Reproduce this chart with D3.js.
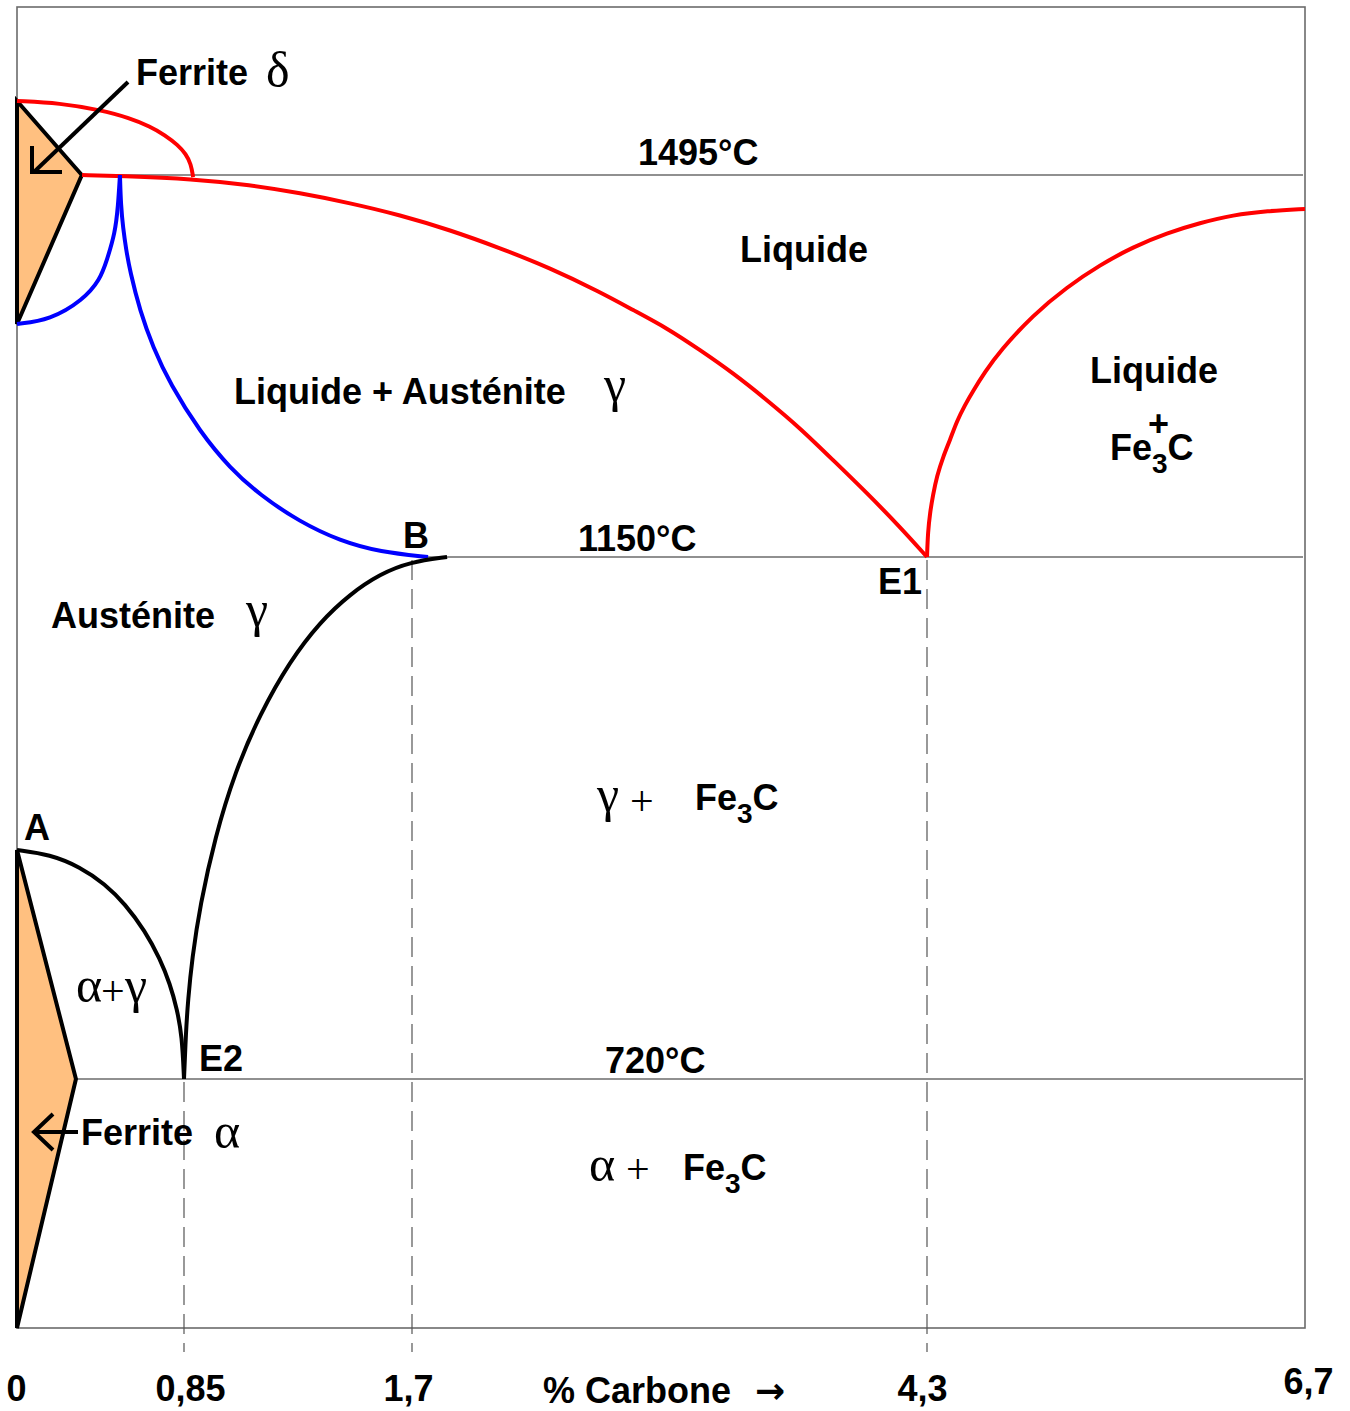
<!DOCTYPE html>
<html>
<head>
<meta charset="utf-8">
<script src="https://cdn.jsdelivr.net/npm/d3@7"></script>
<style>
  body { margin: 0; background: #fff; }
  text { font-family: "Liberation Sans", Arial, sans-serif; font-weight: bold; font-size: 36px; fill: #000; }
  text.greek { font-family: "Liberation Serif", "Times New Roman", serif; font-weight: normal; font-size: 50px; }
  text.plus { font-family: "Liberation Serif", "Times New Roman", serif; font-weight: normal; font-size: 42px; }
</style>
</head>
<body>
<svg id="chart" width="1350" height="1411"></svg>
<script>
// ---- data (% carbone, °C) ----
const carbonTicks = [0, 0.85, 1.7, 4.3, 6.7];
const carbonTickLabels = ["0", "0,85", "1,7", "4,3", "6,7"];
const tempBreaks = [500, 720, 910, 1150, 1394, 1495, 1538, 1600];

const isothermTemps = [1495, 1150, 720];
const isothermStart = [0.33, 1.78, 0.30];
const isothermLabels = ["1495°C", "1150°C", "720°C"];

const dashedCarbon = [0.85, 1.7, 4.3];
const dashedFromTemp = [720, 1150, 1150];

// solid phases (filled)
const ferriteDelta = [[0, 1538], [0.33, 1495], [0, 1394]];
const ferriteAlpha = [[0, 910], [0.30, 720], [0, 500]];

// liquidus (red)
const liquidusDelta = [[0, 1538], [0.219, 1536.8], [0.422, 1532.8], [0.575, 1528.1], [0.677, 1523.2],
                       [0.753, 1518.2], [0.819, 1512.4], [0.857, 1507.2], [0.876, 1501.4], [0.884, 1493.6]];
const liquidusGamma = [[0.331, 1495], [0.524, 1494.3], [0.884, 1492.3], [1.096, 1488.2], [1.282, 1482.8],
                       [1.469, 1476.0], [1.655, 1467.9], [1.892, 1457.7], [2.144, 1445.5], [2.397, 1432.0],
                       [2.649, 1415.7], [2.816, 1403.5], [2.987, 1389.8], [3.154, 1366.8], [3.321, 1342.7],
                       [3.492, 1314.4], [3.659, 1285.1], [3.825, 1251.6], [3.997, 1217.0], [4.164, 1181.4],
                       [4.3, 1150]];
const liquidusCementite = [[4.3, 1150], [4.306, 1176.2], [4.319, 1196.1], [4.338, 1214.9], [4.363, 1234.8],
                           [4.402, 1254.7], [4.446, 1272.5], [4.490, 1292.4], [4.541, 1309.2], [4.592, 1323.8],
                           [4.668, 1343.7], [4.763, 1365.7], [4.973, 1400.1], [5.189, 1419.1], [5.398, 1434.0],
                           [5.608, 1446.2], [5.824, 1455.7], [6.033, 1462.5], [6.243, 1467.9], [6.459, 1470.6],
                           [6.7, 1472.0]];

// delta/gamma and solidus (blue)
const deltaGamma = [[0, 1394], [0.168, 1396.7], [0.336, 1410.3], [0.422, 1423.8], [0.458, 1437.4],
                    [0.499, 1455.7], [0.514, 1473.3], [0.524, 1495]];
const solidusGamma = [[0.524, 1495], [0.529, 1474.0], [0.540, 1459.1], [0.555, 1444.8], [0.575, 1429.9],
                      [0.626, 1402.8], [0.692, 1369.9], [0.779, 1331.2], [0.910, 1280.9], [1.021, 1243.2],
                      [1.133, 1214.9], [1.282, 1186.7], [1.432, 1166.8], [1.581, 1155.2], [1.781, 1150]];

// black lines
const gammaAlpha = [[0, 910], [0.168, 906.3], [0.321, 895.9], [0.448, 881.8], [0.550, 865.2], [0.652, 842.8],
                    [0.728, 819.6], [0.779, 798.8], [0.814, 778.1], [0.840, 755.7], [0.85, 720]];
const acm = [[0.85, 720], [0.857, 758.2], [0.865, 785.5], [0.880, 819.6], [0.910, 864.4], [0.966, 920.7],
             [1.040, 973.9], [1.133, 1021.4], [1.245, 1064.8], [1.357, 1096.8], [1.469, 1119.7],
             [1.581, 1136.1], [1.693, 1145.9], [1.877, 1150]];

// ---- scales ----
const svg = d3.select("#chart");

const x = d3.scaleLinear()
  .domain(carbonTicks)
  .range([17, 184, 412, 927, 1305]);
const y = d3.scaleLinear()
  .domain(tempBreaks)
  .range([1328, 1079, 850, 557, 324, 175, 101, 7]);

const line = d3.line()
  .x(d => x(d[0]))
  .y(d => y(d[1]))
  .curve(d3.curveBasis);

const poly = d3.line()
  .x(d => x(d[0]))
  .y(d => y(d[1]))
  .curve(d3.curveLinearClosed);

const bottom = y(500);

// frame
svg.append("rect")
  .attr("x", x(0)).attr("y", y(1600))
  .attr("width", x(6.7) - x(0)).attr("height", bottom - y(1600))
  .attr("fill", "none").attr("stroke", "#6b6b6b").attr("stroke-width", 1.6);

// isotherms
svg.selectAll(".iso")
  .data(isothermTemps)
  .enter().append("line")
    .attr("class", "iso")
    .attr("x1", (d, i) => x(isothermStart[i]))
    .attr("x2", x(6.7) - 2)
    .attr("y1", d => y(d))
    .attr("y2", d => y(d))
    .attr("stroke", "#6b6b6b")
    .attr("stroke-width", 1.4);

// dashed verticals
svg.selectAll(".dash")
  .data(dashedCarbon)
  .enter().append("line")
    .attr("class", "dash")
    .attr("x1", d => x(d)).attr("x2", d => x(d))
    .attr("y1", (d, i) => y(dashedFromTemp[i]) + 3)
    .attr("y2", bottom + 24)
    .attr("stroke", "#555")
    .attr("stroke-width", 1.2)
    .attr("stroke-dasharray", "20,9");

// ferrite polygons
svg.selectAll(".solid")
  .data([ferriteDelta, ferriteAlpha])
  .enter().append("path")
    .attr("class", "solid")
    .attr("d", poly)
    .attr("fill", "#ffc080")
    .attr("stroke", "#000")
    .attr("stroke-width", 4)
    .attr("stroke-linejoin", "miter");

// curves
const curves = [
  { pts: liquidusDelta, color: "#ff0000" },
  { pts: liquidusGamma, color: "#ff0000" },
  { pts: liquidusCementite, color: "#ff0000" },
  { pts: deltaGamma, color: "#0000ff" },
  { pts: solidusGamma, color: "#0000ff" },
  { pts: gammaAlpha, color: "#000" },
  { pts: acm, color: "#000" }
];
svg.selectAll(".curve")
  .data(curves)
  .enter().append("path")
    .attr("class", "curve")
    .attr("d", d => line(d.pts))
    .attr("fill", "none")
    .attr("stroke", d => d.color)
    .attr("stroke-width", 4)
    .attr("stroke-linecap", "butt");

// arrows
const arrows = svg.append("g")
  .attr("fill", "none").attr("stroke", "#000").attr("stroke-width", 4);
arrows.append("path").attr("d", "M128,82 L34,172");
arrows.append("path").attr("d", "M32,146 L32,172 L62,172");
arrows.append("path").attr("d", "M78,1132 L34,1132");
arrows.append("path").attr("d", "M53,1114 L34,1132 L53,1150");

// isotherm labels
const isoLabelX = [638, 578, 605];
const isoLabelDy = [-10, -6, -6];
svg.selectAll(".isolabel")
  .data(isothermTemps)
  .enter().append("text")
    .attr("class", "isolabel")
    .attr("x", (d, i) => isoLabelX[i])
    .attr("y", (d, i) => y(d) + isoLabelDy[i])
    .text((d, i) => isothermLabels[i]);

// region labels
function label(tx, ty, str) {
  return svg.append("text").attr("x", tx).attr("y", ty).text(str);
}
function greek(tx, ty, str) {
  return svg.append("text").attr("class", "greek").attr("x", tx).attr("y", ty).text(str);
}
function plus(tx, ty) {
  return svg.append("text").attr("class", "plus").attr("x", tx).attr("y", ty).text("+");
}
function fe3c(t) {
  t.append("tspan").text("Fe");
  t.append("tspan").attr("dy", 13).attr("font-size", 28).text("3");
  t.append("tspan").attr("dy", -13).text("C");
}

label(136, 85, "Ferrite");
greek(266, 87, "δ");

label(740, 262, "Liquide");

label(234, 404, "Liquide + Austénite");
greek(604, 401, "γ");

label(1090, 383, "Liquide");
label(1148, 436, "+");
fe3c(label(1110, 460, ""));

label(403, 548, "B");
label(878, 594, "E1");

label(51, 628, "Austénite");
greek(246, 626, "γ");

greek(597, 811, "γ");
plus(630, 815);
fe3c(label(695, 810, ""));

label(24, 840, "A");
greek(76, 1002, "α");
plus(101, 1005);
greek(125, 1002, "γ");
label(199, 1071, "E2");

label(81, 1145, "Ferrite");
greek(214, 1148, "α");

greek(589, 1181, "α");
plus(626, 1183);
fe3c(label(683, 1180, ""));

// x axis
const axis = svg.append("g")
  .attr("transform", `translate(0, ${bottom})`)
  .call(d3.axisBottom(x)
    .tickValues(carbonTicks)
    .tickFormat((d, i) => carbonTickLabels[i])
    .tickSize(0)
    .tickPadding(47));
axis.select(".domain").remove();
axis.selectAll("text")
  .attr("font-family", null)
  .style("font-size", "36px")
  .style("font-weight", "bold")
  .attr("dx", (d, i) => [-1, 6, -4, -5, 3][i])
  .attr("y", (d, i) => i === 4 ? 40 : 47);

const xTitle = label(543, 1403, "% Carbone ");
xTitle.append("tspan")
  .attr("dx", 14)
  .style("font-family", "'DejaVu Sans', sans-serif")
  .text("→");
</script>
</body>
</html>
